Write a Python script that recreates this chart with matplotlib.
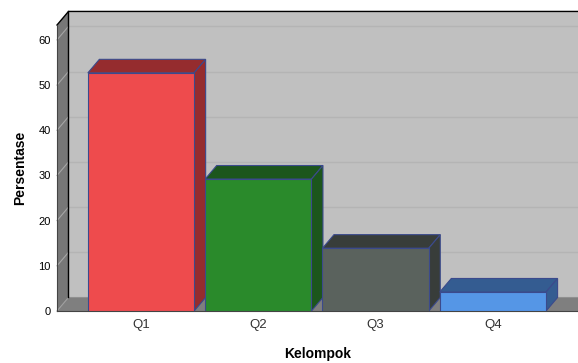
import matplotlib
matplotlib.use("Agg")
import matplotlib.pyplot as plt
from matplotlib.patches import Polygon

categories = ["Q1", "Q2", "Q3", "Q4"]
values = [52.7, 29.2, 13.9, 4.2]
front_colors = ["#ee4b4d", "#2a8a2b", "#5a625d", "#5596e6"]
side_colors = ["#952c2e", "#1c561c", "#383d3a", "#345c91"]
yticks = [0, 10, 20, 30, 40, 50, 60]

plt.rcParams['font.family'] = ['Liberation Sans', 'DejaVu Sans']

fig = plt.figure(figsize=(5.78, 3.63), dpi=100)
fig.patch.set_facecolor('white')
ax = fig.add_axes([57 / 578, (363 - 311) / 363, 521 / 578, (311 - 25) / 363])

XMIN, XMAX = -0.716, 3.725
YMAX = 63.3
DX, DY = 0.098, 3.0
HW = 0.453
XFAR = XMAX + 1.0
EDGE = "#3b4a8c"

ax.set_xlim(XMIN, XMAX)
ax.set_ylim(0, YMAX)
ax.set_facecolor('none')

# back wall
ax.add_patch(Polygon([(XMIN + DX, DY), (XFAR, DY), (XFAR, YMAX + DY), (XMIN + DX, YMAX + DY)],
                     closed=True, facecolor='#c0c0c0', edgecolor='none', zorder=0, clip_on=False))
for t in yticks[1:]:
    ax.plot([XMIN + DX, XFAR], [t + DY, t + DY], color='#b4b4b4', lw=1.0, zorder=0.5, clip_on=False)

# left wall
ax.add_patch(Polygon([(XMIN, 0), (XMIN + DX, DY), (XMIN + DX, YMAX + DY), (XMIN, YMAX)],
                     closed=True, facecolor='#777777', edgecolor='none', zorder=0.6, clip_on=False))
for t in yticks[1:]:
    ax.plot([XMIN, XMIN + DX], [t, t + DY], color='#a6a6a6', lw=0.8, zorder=0.7, clip_on=False)

# floor
ax.add_patch(Polygon([(XMIN, 0), (XFAR, 0), (XFAR, DY), (XMIN + DX, DY)],
                     closed=True, facecolor='#7f7f7f', edgecolor='none', zorder=0.8, clip_on=False))
ax.plot([XMIN, XMIN + DX], [0, DY], color='#a0a0a0', lw=0.8, zorder=0.9, clip_on=False)
ax.plot([XMIN + DX, XFAR], [DY, DY], color='#909090', lw=0.8, zorder=0.9, clip_on=False)

# frame lines
ax.plot([XMIN + DX, XMIN + DX], [DY, YMAX + DY], color='black', lw=1.0, zorder=1, clip_on=False)
ax.plot([XMIN, XMIN + DX, XFAR], [YMAX, YMAX + DY, YMAX + DY], color='black', lw=1.0, zorder=1, clip_on=False)

# bars
xs = list(range(len(categories)))
ax.bar(xs, values, width=2 * HW, color=front_colors, edgecolor=EDGE, linewidth=0.8, zorder=3)
for x, v, sc in zip(xs, values, side_colors):
    top = [(x - HW, v), (x + HW, v), (x + HW + DX, v + DY), (x - HW + DX, v + DY)]
    side = [(x + HW, 0), (x + HW + DX, DY), (x + HW + DX, v + DY), (x + HW, v)]
    ax.add_patch(Polygon(top, closed=True, facecolor=sc, edgecolor=EDGE, lw=0.8, zorder=2.5, clip_on=False))
    ax.add_patch(Polygon(side, closed=True, facecolor=sc, edgecolor=EDGE, lw=0.8, zorder=2.5, clip_on=False))

for s in ['top', 'right']:
    ax.spines[s].set_visible(False)
ax.spines['left'].set_color('#444444')
ax.spines['bottom'].set_color('#444444')
ax.spines['left'].set_zorder(1.2)
ax.spines['bottom'].set_zorder(1.2)

ax.set_yticks(yticks)
ax.set_yticklabels([str(t) for t in yticks])
ax.set_xticks(xs)
ax.set_xticklabels(categories)
ax.tick_params(axis='y', length=0, pad=4.5, labelsize=8, labelcolor='black')
ax.tick_params(axis='x', length=0, pad=6, labelsize=9.5, labelcolor='#333333')

ax.set_ylabel("Persentase", fontsize=10, fontweight='bold', va='center')
ax.yaxis.set_label_coords(-0.071, 0.5)
ax.set_xlabel("Kelompok", fontsize=10, fontweight='bold', va='top')
ax.xaxis.set_label_coords(0.5, -0.125)

fig.savefig("out.png", dpi=100)
